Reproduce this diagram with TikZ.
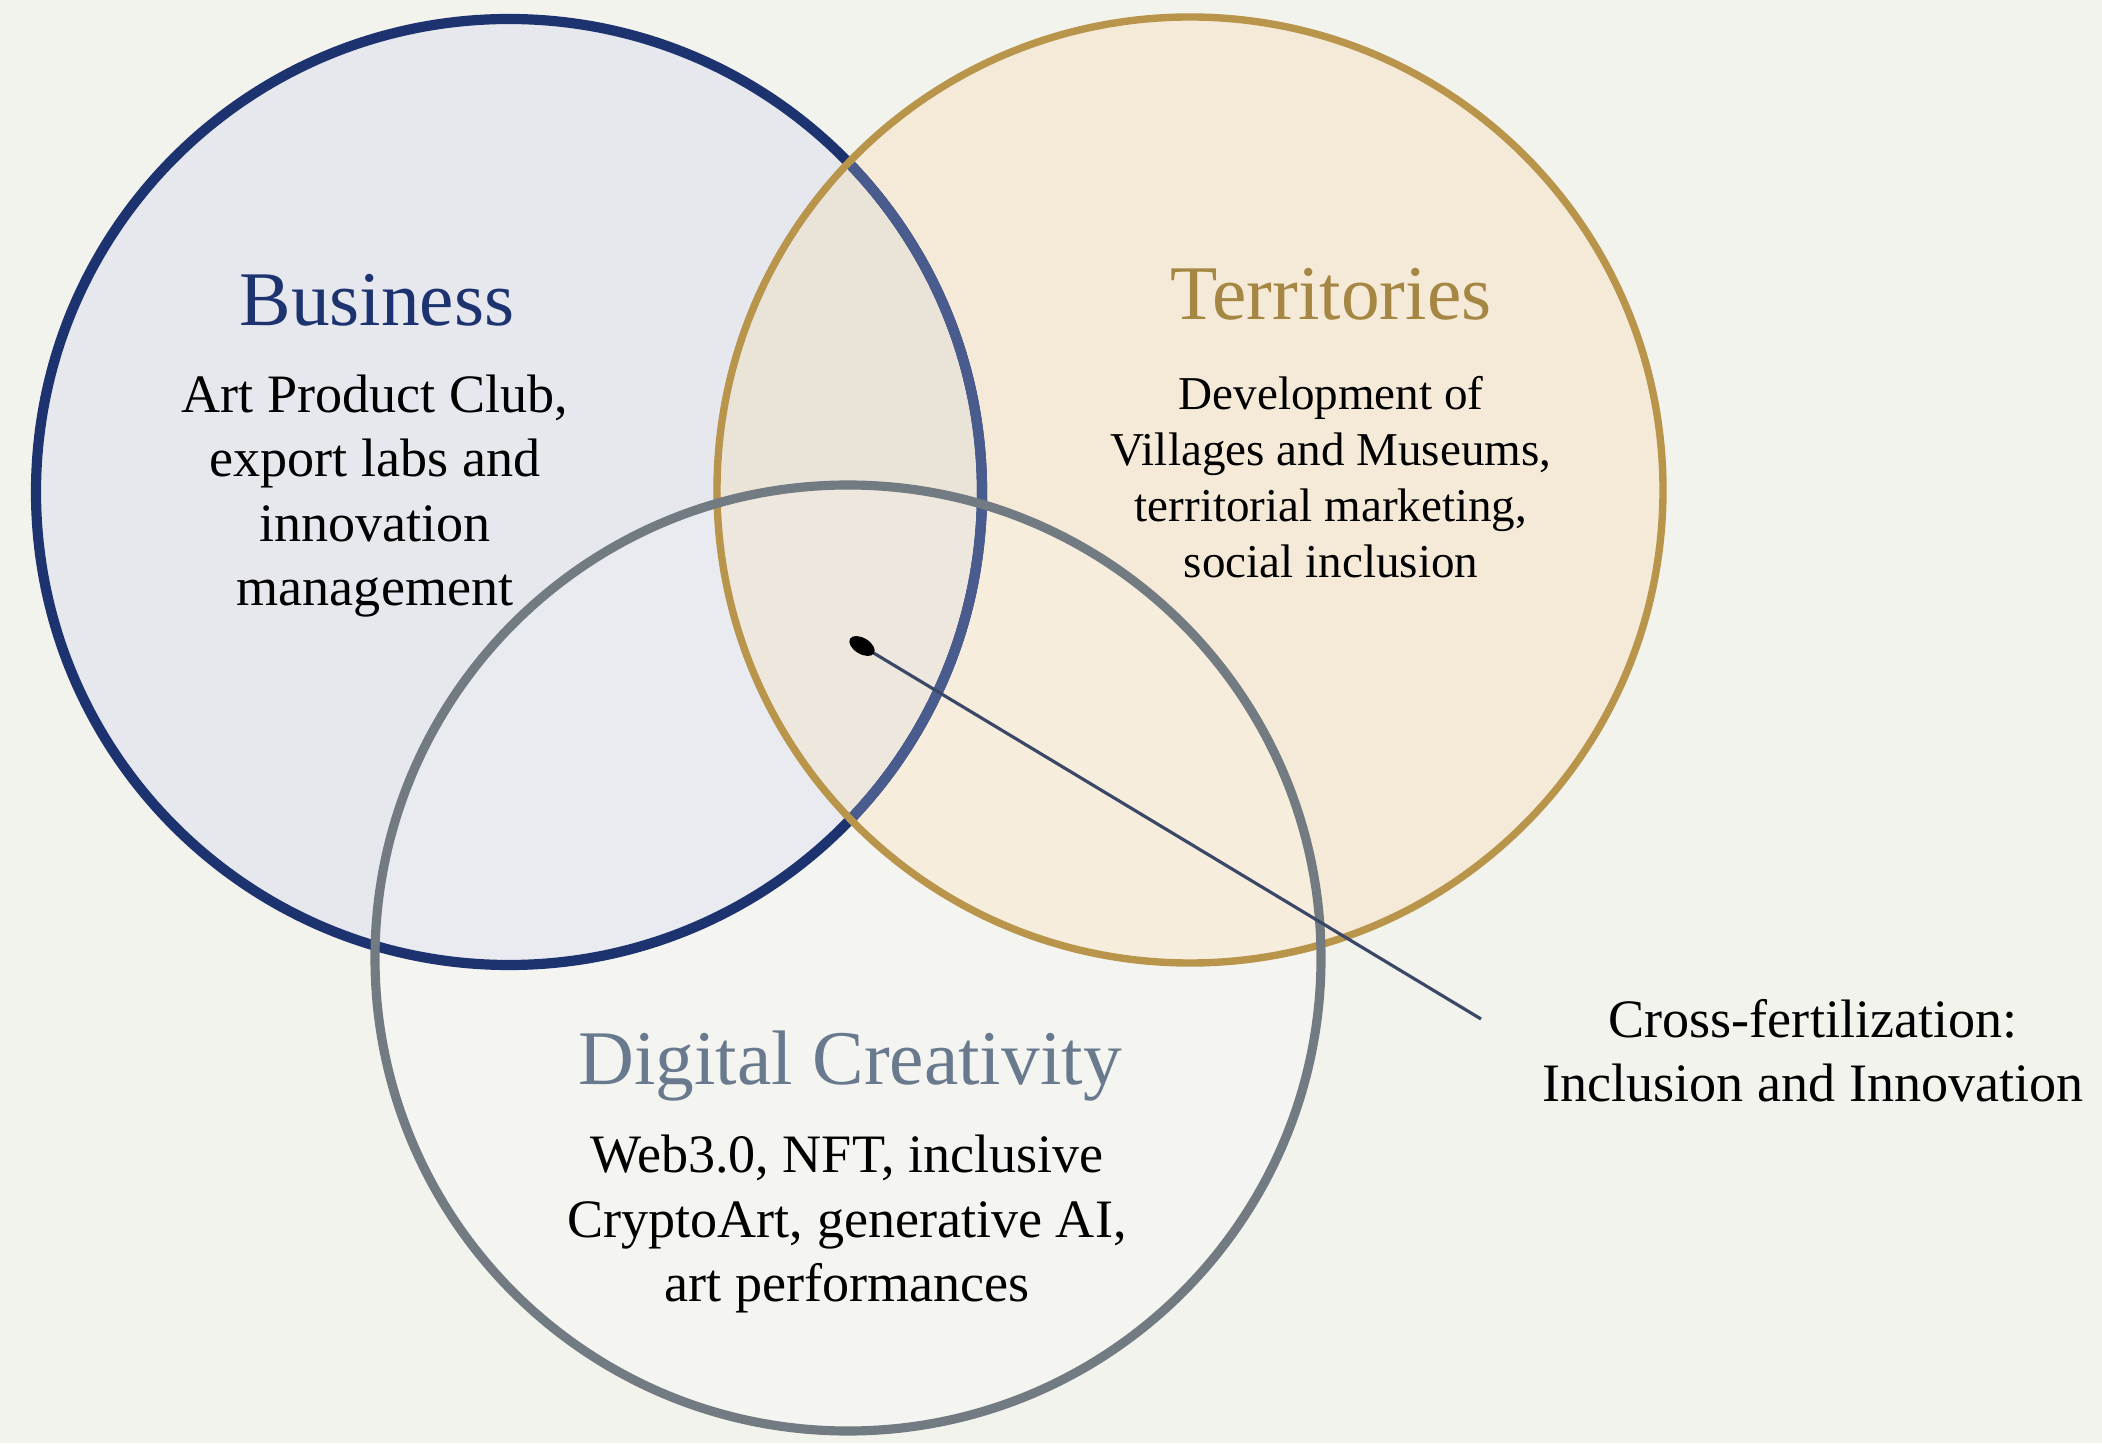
\documentclass[tikz,border=0pt]{standalone}
\usepackage{fontspec}
\setmainfont{Liberation Serif}
\usepackage{tikz}

\definecolor{paper}{HTML}{F3F3EE}
\definecolor{bizline}{HTML}{1C3370}
\definecolor{bizfill}{HTML}{E6E8EE}
\definecolor{terline}{HTML}{B8954A}
\definecolor{terfill}{HTML}{F5EAD8}
\definecolor{bothfill}{HTML}{EAE3D8}
\definecolor{digline}{HTML}{727B82}
\definecolor{digtitle}{HTML}{6A7A8E}
\definecolor{pointer}{HTML}{3B4767}
\definecolor{pin}{HTML}{26438F}

\begin{document}
\begin{tikzpicture}[
  title/.style={font=\fontsize{22}{26}\selectfont},
  body/.style={align=center,font=\fontsize{15.4}{18.3}\selectfont},
  smallbody/.style={align=center,font=\fontsize{13.4}{15.9}\selectfont}]
\fill[paper] (0,0) rectangle (21.02,14.43);
\useasboundingbox (0,0) rectangle (21.02,14.43);

\fill[bizfill] (5.09,9.51) circle (4.73);
\fill[terfill] (11.90,9.53) circle (4.73);
\begin{scope}
\clip (5.09,9.51) circle (4.73);
\fill[bothfill] (11.90,9.53) circle (4.73);
\end{scope}
\fill[white,opacity=0.15] (8.48,4.85) circle (4.73);

\draw[bizline,line width=2.9pt] (5.09,9.51) circle (4.73);
\begin{scope}
\clip (11.90,9.53) circle (4.73);
\draw[bizline!80!white,line width=2.9pt] (5.09,9.51) circle (4.73);
\end{scope}
\draw[terline,line width=2.1pt] (11.90,9.53) circle (4.73);
\draw[digline,line width=2.6pt] (8.48,4.85) circle (4.73);

\node[title,text=bizline] (biz) at (3.77,11.43) {Business};
\node[body] (bizdesc) at (3.75,9.47) {Art Product Club,\\export labs and\\innovation\\management};

\node[title,text=terline!90!black] (ter) at (13.31,11.49) {Territories};
\node[smallbody] (terdesc) at (13.31,9.66) {Development of\\Villages and Museums,\\territorial marketing,\\social inclusion};

\node[title,text=digtitle] (dig) at (8.50,3.77) {Digital Creativity};
\node[body] (digdesc) at (8.47,2.19) {Web3.0, NFT, inclusive\\CryptoArt, generative AI,\\art performances};

\node[body] (cross) at (18.13,3.92) {Cross-fertilization:\\Inclusion and Innovation};

\coordinate (core) at (8.62,7.97);
\coordinate (tail) at (14.81,4.24);
\draw[pointer,line width=0.9pt] (core) -- (tail);
\fill[pin,rotate around={-31:(core)}] (core) ellipse (0.14 and 0.08);
\end{tikzpicture}
\end{document}
